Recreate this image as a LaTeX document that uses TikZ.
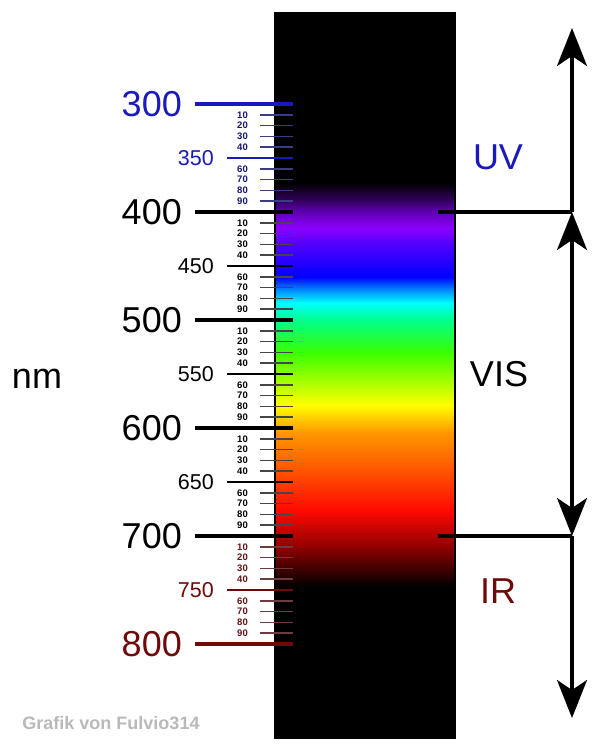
\documentclass[tikz,border=0pt]{standalone}
\usepackage{fontspec}
\setmainfont{Liberation Sans}
\usetikzlibrary{arrows.meta}

\definecolor{uvblue}{RGB}{25,25,190}
\definecolor{uvdark}{RGB}{20,20,120}
\definecolor{uvtick}{RGB}{60,60,130}
\definecolor{irred}{RGB}{110,10,10}
\definecolor{irdark}{RGB}{100,20,20}
\definecolor{irtick}{RGB}{110,60,60}
\definecolor{tickgray}{RGB}{70,70,70}
\definecolor{creditgray}{RGB}{185,185,185}

% spectrum colours, bottom to top
\definecolor{spA}{RGB}{150,0,0}
\definecolor{spB}{RGB}{255,10,0}
\definecolor{spC}{RGB}{255,85,0}
\definecolor{spD}{RGB}{255,150,0}
\definecolor{spE}{RGB}{255,255,0}
\definecolor{spF}{RGB}{160,255,0}
\definecolor{spG}{RGB}{60,255,0}
\definecolor{spH}{RGB}{0,255,140}
\definecolor{spI}{RGB}{0,255,255}
\definecolor{spJ}{RGB}{0,140,255}
\definecolor{spK}{RGB}{0,0,255}
\definecolor{spL}{RGB}{80,0,255}
\definecolor{spM}{RGB}{140,0,255}
\definecolor{spN}{RGB}{95,0,180}
\definecolor{spO}{RGB}{50,0,90}

\pgfdeclareverticalshading{spectrum}{100bp}{
  color(0bp)=(black); color(35.41bp)=(black);
  color(38.31bp)=(spA); color(40.72bp)=(spB);
  color(43.48bp)=(spC); color(46.03bp)=(spD);
  color(47.97bp)=(spE); color(49.69bp)=(spF);
  color(51.55bp)=(spG); color(53.83bp)=(spH);
  color(55.00bp)=(spI); color(55.90bp)=(spJ);
  color(56.79bp)=(spK); color(59.00bp)=(spL);
  color(60.17bp)=(spM); color(61.28bp)=(spN);
  color(62.10bp)=(spO); color(63.28bp)=(black);
  color(100bp)=(black)}

\tikzset{
  biglab/.style={font=\fontsize{36}{40}\selectfont, inner sep=0pt},
  midlab/.style={font=\fontsize{21.5}{24}\selectfont, inner sep=0pt, anchor=east},
  minlab/.style={font=\bfseries\fontsize{9.5}{10}\selectfont, inner sep=0pt, anchor=east},
  creditlab/.style={font=\bfseries\fontsize{18}{20}\selectfont, text=creditgray, inner sep=0pt},
  bigtick/.style={line width=3.2pt},
  midtick/.style={line width=2.6pt},
  minortick/.style={line width=1.5pt},
  rangeline/.style={line width=3.2pt},
  bigtip/.tip={Stealth[length=38pt,width=30pt,inset=10pt]}
}

\begin{document}
\begin{tikzpicture}[x=1pt, y=-1pt]
  \useasboundingbox (0,0) rectangle (600,752);

  % the spectrum bar
  \shade[shading=spectrum] (275,13) rectangle (455,738);
  \draw[line width=1.5pt] (275,13) rectangle (455,738);

  % scale: 104 at 300 nm, 1.08 per nm
  \foreach \h/\lc/\tc in {300/uvdark/uvtick,400/black/tickgray,500/black/tickgray,600/black/tickgray,700/irdark/irtick}{
    \foreach \t in {10,20,30,40,60,70,80,90}{
      \draw[minortick,\tc] (260,{104+(\h-300+\t)*1.08}) -- (293,{104+(\h-300+\t)*1.08});
      \node[minlab,text=\lc] (m\h-\t) at (248,{104+(\h-300+\t)*1.08}) {\t};
    }
  }

  \foreach \f/\c in {350/uvblue,450/black,550/black,650/black,750/irred}{
    \draw[midtick,\c] (227,{104+(\f-300)*1.08}) -- (293,{104+(\f-300)*1.08});
    \node[midlab,text=\c] (f\f) at (214,{104+(\f-300)*1.08}) {\f};
  }

  \foreach \h/\c in {300/uvblue,400/black,500/black,600/black,700/black,800/irred}{
    \draw[bigtick,\c] (195,{104+(\h-300)*1.08}) -- (293,{104+(\h-300)*1.08});
    \node[biglab,anchor=east,text=\c] (n\h) at (182,{104+(\h-300)*1.08}) {\h};
  }

  \node[biglab] (nm) at (37,379) {nm};

  % ranges on the right
  \node[biglab,text=uvblue] (uv) at (498,157) {UV};
  \node[biglab] (vis) at (499,374) {VIS};
  \node[biglab,text=irred] (ir) at (498,591) {IR};

  \coordinate (uvtop) at (572,28);
  \coordinate (vistop) at (572,212);
  \coordinate (visbot) at (572,536);
  \coordinate (irbot) at (572,718);
  \coordinate (cut400) at (438,212);
  \coordinate (cut700) at (438,536);

  \draw[rangeline] (cut400) -- (vistop);
  \draw[rangeline] (cut700) -- (visbot);
  \draw[rangeline,-bigtip] (vistop) -- (uvtop);
  \draw[rangeline,bigtip-bigtip] (vistop) -- (visbot);
  \draw[rangeline,-bigtip] (visbot) -- (irbot);

  \node[creditlab] (credit) at (111,723) {Grafik von Fulvio314};
\end{tikzpicture}
\end{document}
